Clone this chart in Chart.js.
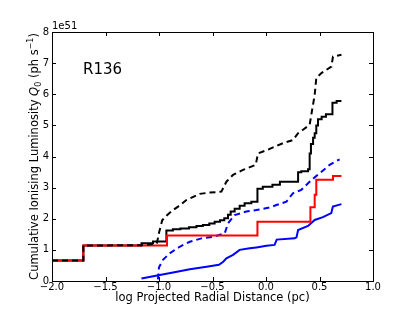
<!DOCTYPE html>
<html>
<head>
<meta charset="utf-8">
<script src="https://cdn.jsdelivr.net/npm/chart.js@4/dist/chart.umd.min.js"></script>
<style>
  html, body { margin: 0; padding: 0; background: #ffffff; }
  #wrap { width: 415px; height: 312px; position: relative; }
</style>
</head>
<body>
<div id="wrap"><canvas id="c" width="415" height="312"></canvas></div>
<script>
// ---- data ----
const xTicks = [-2.0, -1.5, -1.0, -0.5, 0.0, 0.5, 1.0];
const yTicks = [0, 1, 2, 3, 4, 5, 6, 7, 8];

// step series: value y[i] holds from x[i] to x[i+1]
const redX = [-2.0, -1.707, -0.925, -0.08, 0.415, 0.455, 0.47, 0.626, 0.705];
const redY = [0.66, 1.14, 1.46, 1.9, 2.37, 2.77, 3.25, 3.37, 3.37];

const blackX = [-2.0, -1.707, -1.164, -1.056, -0.931, -0.87, -0.80, -0.72, -0.65, -0.59, -0.53, -0.48, -0.43, -0.39, -0.355, -0.33, -0.293, -0.246, -0.20, -0.137, -0.08, -0.03, 0.06, 0.13, 0.30, 0.33, 0.393, 0.408, 0.42, 0.44, 0.455, 0.47, 0.486, 0.52, 0.56, 0.621, 0.66, 0.705];
const blackY = [0.66, 1.14, 1.21, 1.27, 1.62, 1.66, 1.69, 1.73, 1.77, 1.80, 1.85, 1.90, 1.95, 2.02, 2.13, 2.23, 2.32, 2.42, 2.50, 2.55, 2.96, 3.03, 3.09, 3.19, 3.49, 3.53, 3.59, 4.1, 4.4, 4.6, 4.75, 5.0, 5.2, 5.28, 5.36, 5.73, 5.78, 5.78];

// traced series: points along the curve
const blackDashX = [-2.0, -1.707, -1.707, -1.164, -1.02, -1.0, -0.97, -0.93, -0.88, -0.822, -0.744, -0.62, -0.526, -0.417, -0.37, -0.308, -0.215, -0.096, -0.075, 0.004, 0.159, 0.252, 0.30, 0.346, 0.408, 0.424, 0.455, 0.47, 0.518, 0.611, 0.626, 0.705];
const blackDashY = [0.66, 0.66, 1.14, 1.15, 1.2, 1.55, 1.95, 2.1, 2.25, 2.39, 2.6, 2.8, 2.84, 2.87, 3.19, 3.41, 3.57, 3.73, 4.1, 4.2, 4.43, 4.53, 4.75, 4.86, 5.02, 5.35, 5.98, 6.52, 6.68, 6.89, 7.21, 7.27];

const blueX = [-1.164, -0.993, -0.868, -0.712, -0.556, -0.44, -0.40, -0.37, -0.308, -0.246, -0.152, -0.09, 0.004, 0.08, 0.10, 0.268, 0.285, 0.30, 0.393, 0.455, 0.532, 0.61, 0.625, 0.705];
const blueY = [0.08, 0.19, 0.27, 0.38, 0.46, 0.52, 0.62, 0.73, 0.84, 1.0, 1.05, 1.08, 1.13, 1.16, 1.33, 1.37, 1.40, 1.64, 1.77, 1.96, 2.05, 2.18, 2.39, 2.47];

const blueDashX = [-1.01, -1.0, -0.963, -0.9, -0.807, -0.712, -0.603, -0.495, -0.386, -0.355, -0.293, -0.184, -0.09, 0.03, 0.097, 0.191, 0.252, 0.33, 0.393, 0.455, 0.502, 0.595, 0.688];
const blueDashY = [0.05, 0.44, 0.68, 0.89, 1.1, 1.26, 1.37, 1.42, 1.53, 1.85, 2.12, 2.23, 2.28, 2.36, 2.44, 2.55, 2.82, 2.93, 3.14, 3.33, 3.46, 3.73, 3.91];

const toPts = (xs, ys) => xs.map((x, i) => ({ x: x, y: ys[i] }));

// ---- custom drawing: frame, inward ticks, annotations ----
const decor = {
  id: 'decor',
  afterDraw(chart) {
    const ctx = chart.ctx;
    const a = chart.chartArea;
    const xs = chart.scales.x, ys = chart.scales.y;
    ctx.save();
    ctx.strokeStyle = '#000';
    ctx.lineWidth = 1;
    ctx.strokeRect(Math.round(a.left) + 0.5, Math.round(a.top) + 0.5, Math.round(a.right - a.left), Math.round(a.bottom - a.top));
    const tl = 4;
    ctx.beginPath();
    xTicks.forEach(v => {
      const px = Math.round(xs.getPixelForValue(v)) + 0.5;
      ctx.moveTo(px, a.bottom); ctx.lineTo(px, a.bottom - tl);
      ctx.moveTo(px, a.top); ctx.lineTo(px, a.top + tl);
    });
    yTicks.forEach(v => {
      const py = Math.round(ys.getPixelForValue(v)) + 0.5;
      ctx.moveTo(a.left, py); ctx.lineTo(a.left + tl, py);
      ctx.moveTo(a.right, py); ctx.lineTo(a.right - tl, py);
    });
    ctx.stroke();

    ctx.fillStyle = '#000';
    ctx.font = '10px "DejaVu Sans"';
    ctx.textAlign = 'left';
    ctx.textBaseline = 'alphabetic';
    ctx.fillText('1e51', a.left, a.top - 3);

    ctx.font = '15px "DejaVu Sans"';
    ctx.fillText('R136', xs.getPixelForValue(-1.71), ys.getPixelForValue(6.65));

    ctx.font = '11.5px "DejaVu Sans"';
    ctx.textAlign = 'center';
    ctx.fillText('log Projected Radial Distance (pc)', (a.left + a.right) / 2, 301);

    const segs = [
      { t: 'Cumulative Ionising Luminosity ', f: '11.5px "DejaVu Sans"', dy: 0 },
      { t: 'Q', f: 'italic 11.5px "DejaVu Sans"', dy: 0 },
      { t: '0', f: '8px "DejaVu Sans"', dy: 2.5 },
      { t: ' (ph s', f: '11.5px "DejaVu Sans"', dy: 0 },
      { t: '\u22121', f: '8px "DejaVu Sans"', dy: -5 },
      { t: ')', f: '11.5px "DejaVu Sans"', dy: 0 }
    ];
    let total = 0;
    segs.forEach(s => { ctx.font = s.f; s.w = ctx.measureText(s.t).width; total += s.w; });
    ctx.translate(38, (a.top + a.bottom) / 2);
    ctx.rotate(-Math.PI / 2);
    ctx.textAlign = 'left';
    let cx = -total / 2;
    segs.forEach(s => { ctx.font = s.f; ctx.fillText(s.t, cx, s.dy); cx += s.w; });
    ctx.restore();
  }
};

const fmt = v => Number(v).toFixed(1).replace('-', '\u2212');

new Chart(document.getElementById('c'), {
  type: 'scatter',
  data: {
    datasets: [
      { data: toPts(blackDashX, blackDashY), borderColor: '#000000', borderDash: [6, 4] },
      { data: toPts(redX, redY), borderColor: '#ff0000', stepped: true },
      { data: toPts(blackX, blackY), borderColor: '#000000', stepped: true },
      { data: toPts(blueDashX, blueDashY), borderColor: '#0000ff', borderDash: [6, 4] },
      { data: toPts(blueX, blueY), borderColor: '#0000ff' }
    ].map(d => Object.assign({
      showLine: true, stepped: false, pointRadius: 0, borderWidth: 2, fill: false,
      borderCapStyle: 'butt', borderJoinStyle: 'miter', tension: 0
    }, d))
  },
  options: {
    responsive: false,
    animation: false,
    events: [],
    layout: { padding: { top: 32, right: 42, left: 0, bottom: 0 } },
    plugins: { legend: { display: false }, tooltip: { enabled: false } },
    scales: {
      x: {
        type: 'linear', min: -2.0, max: 1.0,
        afterBuildTicks: s => { s.ticks = xTicks.map(v => ({ value: v })); },
        afterFit: s => { s.height = 31; },
        grid: { display: false, drawTicks: false },
        border: { display: false },
        ticks: { color: '#000', font: { family: 'DejaVu Sans', size: 10 }, padding: 0, maxRotation: 0, callback: v => fmt(v) }
      },
      y: {
        type: 'linear', min: 0, max: 8,
        afterBuildTicks: s => { s.ticks = yTicks.map(v => ({ value: v })); },
        afterFit: s => { s.width = 52; },
        grid: { display: false, drawTicks: false },
        border: { display: false },
        ticks: { color: '#000', font: { family: 'DejaVu Sans', size: 10 }, padding: 3, callback: v => String(v) }
      }
    }
  },
  plugins: [decor]
});
</script>
</body>
</html>
